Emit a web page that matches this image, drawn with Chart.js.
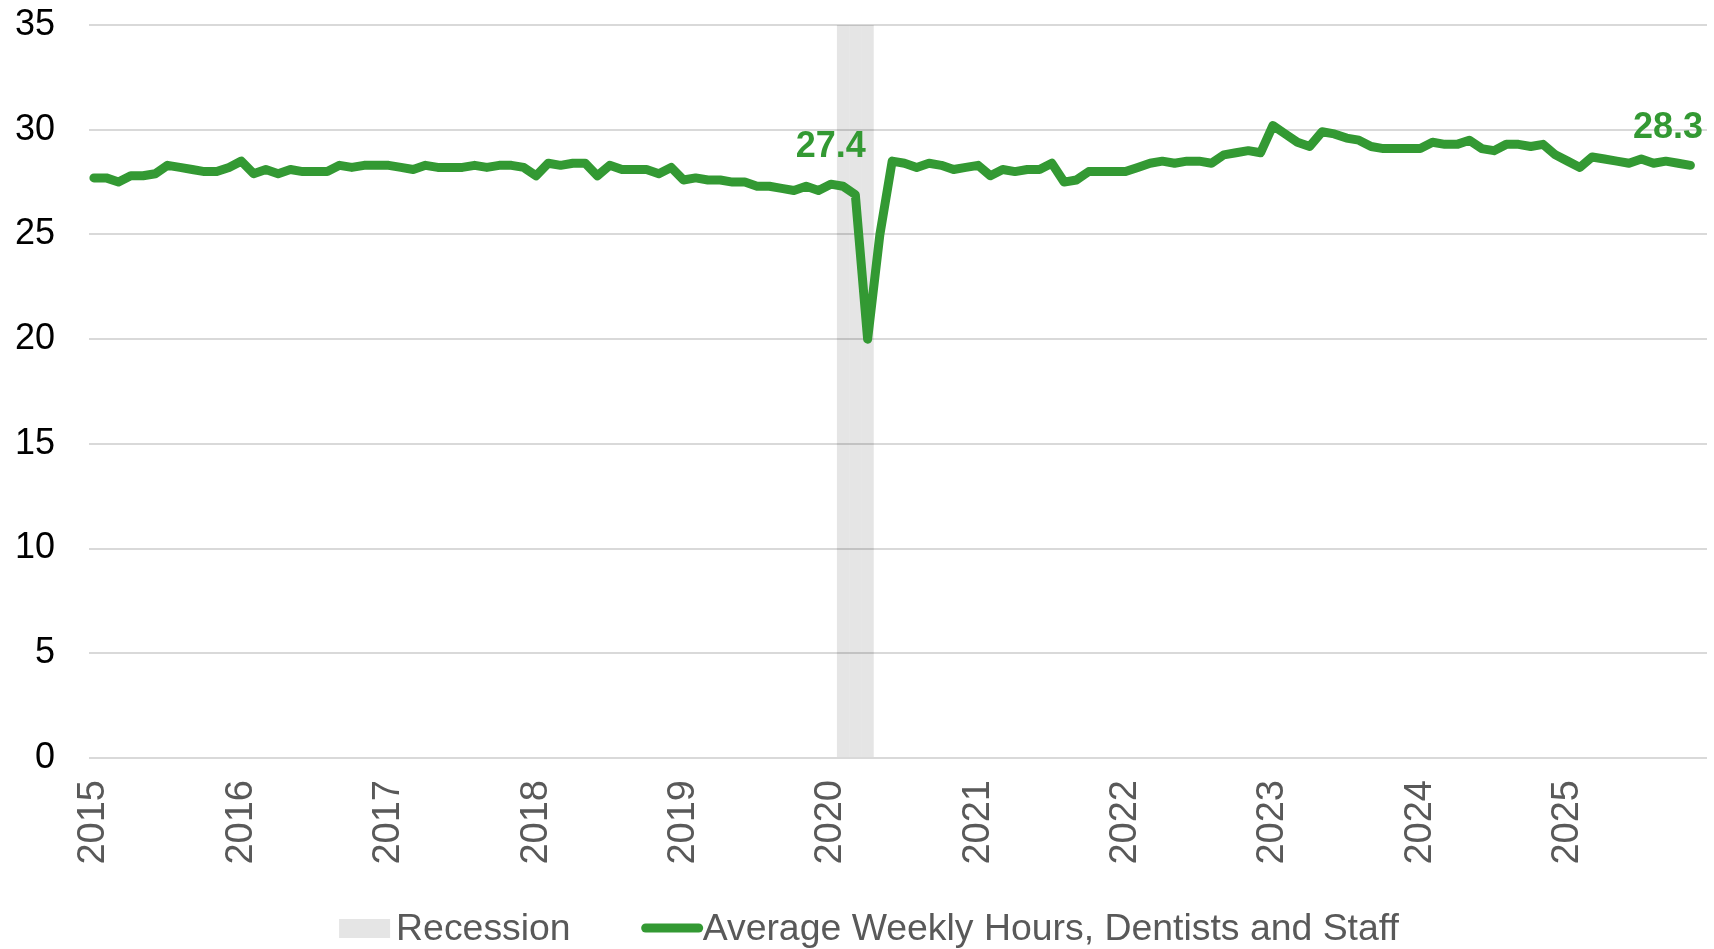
<!DOCTYPE html>
<html>
<head>
<meta charset="utf-8">
<title>Average Weekly Hours, Dentists and Staff</title>
<script src="https://cdn.jsdelivr.net/npm/chart.js@4.4.1/dist/chart.umd.min.js"></script>
<style>
  html, body { margin: 0; padding: 0; background: #fff; }
  #wrap { width: 1714px; height: 949px; }
</style>
</head>
<body>
<div id="wrap"><canvas id="chart"></canvas></div>
<script>
// monthly series, Jan 2015 .. Nov 2025
const startYear = 2015;
const hours = [
  27.7, 27.7, 27.5, 27.8, 27.8, 27.9, 28.3, 28.2, 28.1, 28.0, 28.0, 28.2, // 2015
  28.5, 27.9, 28.1, 27.9, 28.1, 28.0, 28.0, 28.0, 28.3, 28.2, 28.3, 28.3, // 2016
  28.3, 28.2, 28.1, 28.3, 28.2, 28.2, 28.2, 28.3, 28.2, 28.3, 28.3, 28.2, // 2017
  27.8, 28.4, 28.3, 28.4, 28.4, 27.8, 28.3, 28.1, 28.1, 28.1, 27.9, 28.2, // 2018
  27.6, 27.7, 27.6, 27.6, 27.5, 27.5, 27.3, 27.3, 27.2, 27.1, 27.3, 27.1, // 2019
  27.4, 27.3, 26.9, 20.0, 25.0, 28.5, 28.4, 28.2, 28.4, 28.3, 28.1, 28.2, // 2020
  28.3, 27.8, 28.1, 28.0, 28.1, 28.1, 28.4, 27.5, 27.6, 28.0, 28.0, 28.0, // 2021
  28.0, 28.2, 28.4, 28.5, 28.4, 28.5, 28.5, 28.4, 28.8, 28.9, 29.0, 28.9, // 2022
  30.2, 29.8, 29.4, 29.2, 29.9, 29.8, 29.6, 29.5, 29.2, 29.1, 29.1, 29.1, // 2023
  29.1, 29.4, 29.3, 29.3, 29.5, 29.1, 29.0, 29.3, 29.3, 29.2, 29.3, 28.8, // 2024
  28.5, 28.2, 28.7, 28.6, 28.5, 28.4, 28.6, 28.4, 28.5, 28.4, 28.3        // 2025
];
const recessionMonths = ['2020-02', '2020-03', '2020-04'];
const callouts = ['2020-01', '2025-11'];
const yearTicks = ['2015', '2016', '2017', '2018', '2019', '2020', '2021', '2022', '2023', '2024', '2025'];
const yTop = 35;

const green = '#339933';
const recessionGrey = '#e5e5e5';
const fontFamily = '"Liberation Sans", Arial, sans-serif';

function monthIndex(s) {
  const [y, m] = s.split('-').map(Number);
  return (y - startYear) * 12 + (m - 1);
}

Chart.defaults.font.family = fontFamily;

// bold value labels above chosen points
const calloutPlugin = {
  id: 'callouts',
  afterDatasetsDraw(chart) {
    const meta = chart.getDatasetMeta(0);
    const ctx = chart.ctx;
    ctx.save();
    ctx.font = 'bold 36px ' + fontFamily;
    ctx.fillStyle = green;
    ctx.textAlign = 'left';
    ctx.textBaseline = 'alphabetic';
    callouts.forEach(m => {
      const i = monthIndex(m);
      const pt = meta.data[i];
      const text = hours[i].toFixed(1);
      const w = ctx.measureText(text).width;
      const x = Math.min(pt.x - w / 2, chart.width - 11 - w);
      ctx.fillText(text, x, pt.y - 27);
    });
    ctx.restore();
  }
};

// legend drawn by hand: grey box for recession, thick line for the series
const legendPlugin = {
  id: 'bottomLegend',
  afterDraw(chart) {
    const ctx = chart.ctx;
    const ds = chart.data.datasets;
    const y = 930;
    ctx.save();
    ctx.font = '37.4px ' + fontFamily;
    ctx.textBaseline = 'middle';
    ctx.textAlign = 'left';
    const w1 = ctx.measureText(ds[1].label).width;
    const w2 = ctx.measureText(ds[0].label).width;
    const total = 51 + 6 + w1 + 71 + 61 + w2;
    let x = (chart.width - total) / 2 + 12;

    ctx.fillStyle = recessionGrey;
    ctx.fillRect(x, y - 11, 51, 19);
    x += 57;
    ctx.fillStyle = '#595959';
    ctx.fillText(ds[1].label, x, y);
    x += w1 + 71;

    ctx.strokeStyle = green;
    ctx.lineWidth = 9;
    ctx.lineCap = 'round';
    ctx.beginPath();
    ctx.moveTo(x + 4, y - 2);
    ctx.lineTo(x + 57, y - 2);
    ctx.stroke();
    x += 61;
    ctx.fillText(ds[0].label, x, y);
    ctx.restore();
  }
};

const ctx = document.getElementById('chart').getContext('2d');
const chart = new Chart(ctx, {
  type: 'line',
  data: {
    datasets: [{
      label: 'Average Weekly Hours, Dentists and Staff',
      data: hours.map((v, i) => ({ x: i, y: v })),
      borderColor: green,
      backgroundColor: green,
      borderWidth: 9,
      borderJoinStyle: 'round',
      borderCapStyle: 'round',
      pointRadius: 0,
      tension: 0,
      order: 0
    }, {
      type: 'bar',
      label: 'Recession',
      data: recessionMonths.map(m => ({ x: monthIndex(m), y: yTop })),
      backgroundColor: 'rgba(0,0,0,0.1)',
      borderWidth: 0,
      inflateAmount: 0,
      barPercentage: 1,
      categoryPercentage: 1,
      order: 1
    }]
  },
  options: {
    responsive: true,
    maintainAspectRatio: false,
    animation: false,
    layout: { padding: { top: 25, right: 7, bottom: 82, left: 0 } },
    scales: {
      x: {
        type: 'linear',
        min: -0.4,
        max: 131.35,
        offset: false,
        grid: { display: false, drawTicks: false, offset: false },
        border: { display: false },
        afterBuildTicks: (scale) => {
          scale.ticks = yearTicks.map((_, i) => ({ value: i * 12 }));
        },
        afterFit: (scale) => { scale.height = 109; },
        ticks: {
          autoSkip: false,
          minRotation: 90,
          maxRotation: 90,
          padding: 22,
          color: '#595959',
          font: { size: 38 },
          callback: (value, index) => yearTicks[index]
        }
      },
      y: {
        min: 0,
        max: yTop,
        afterFit: (scale) => {
          scale.width = 89;
          scale.paddingTop = 0;
          scale.paddingBottom = 0;
        },
        grid: { color: '#d9d9d9', lineWidth: 2, drawTicks: false },
        border: { display: false },
        ticks: {
          stepSize: 5,
          padding: 34,
          color: '#000000',
          font: { size: 36 }
        }
      }
    },
    plugins: {
      tooltip: { enabled: false },
      legend: { display: false }
    }
  },
  plugins: [calloutPlugin, legendPlugin]
});
</script>
</body>
</html>
